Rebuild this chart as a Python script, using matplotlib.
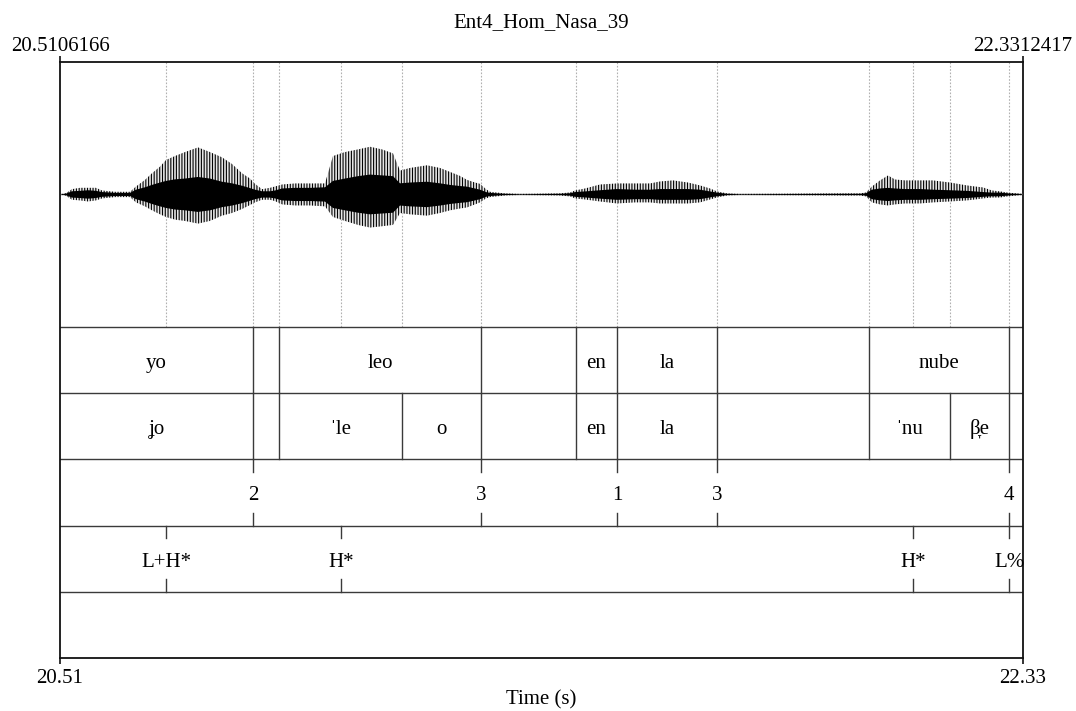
import matplotlib
matplotlib.use("Agg")
import matplotlib.pyplot as plt
import numpy as np

plt.rcParams['font.family'] = ['Liberation Serif', 'DejaVu Serif']
plt.rcParams['hatch.linewidth'] = 0.8

# ---- time range and title ----
t_start = 20.5106166
t_end = 22.3312417
title = "Ent4_Hom_Nasa_39"

# ---- waveform amplitude envelope (upper / lower, fraction of half panel) ----
wave_t = [20.5106, 20.5220, 20.5333, 20.5484, 20.5635, 20.5787, 20.5900, 20.6146,
          20.6430, 20.6543, 20.6713, 20.6845, 20.6997, 20.7110, 20.7280, 20.7469,
          20.7715, 20.7942, 20.8169, 20.8358, 20.8547, 20.8698, 20.8793, 20.8925,
          20.9076, 20.9171, 20.9303, 20.9549, 20.9833, 21.0116, 21.0267, 21.0494,
          21.0740, 21.0967, 21.1194, 21.1402, 21.1534, 21.1723, 21.2045, 21.2290,
          21.2479, 21.2668, 21.2801, 21.2952, 21.3047, 21.3160, 21.3236, 21.3349,
          21.3519, 21.3803, 21.4559, 21.4748, 21.4843, 21.5032, 21.5315, 21.5637,
          21.5977, 21.6261, 21.6450, 21.6695, 21.6979, 21.7206, 21.7395, 21.7527,
          21.7716, 21.7962, 21.9947, 22.0231, 22.0344, 22.0457, 22.0609, 22.0760,
          22.0892, 22.1081, 22.1365, 22.1610, 22.1932, 22.2253, 22.2405, 22.2556,
          22.2726, 22.2877, 22.3067, 22.3199, 22.3312]
wave_hi = [0.00, 0.01, 0.04, 0.05, 0.05, 0.05, 0.03, 0.02,
           0.02, 0.06, 0.11, 0.16, 0.21, 0.26, 0.29, 0.32,
           0.355, 0.32, 0.28, 0.23, 0.16, 0.12, 0.08, 0.04,
           0.05, 0.06, 0.075, 0.083, 0.083, 0.083, 0.29, 0.32,
           0.34, 0.36, 0.34, 0.31, 0.18, 0.20, 0.22, 0.20,
           0.17, 0.14, 0.11, 0.09, 0.08, 0.04, 0.02, 0.015,
           0.008, 0.004, 0.008, 0.015, 0.03, 0.045, 0.075, 0.083,
           0.083, 0.083, 0.098, 0.106, 0.09, 0.068, 0.045, 0.023,
           0.008, 0.004, 0.008, 0.008, 0.015, 0.06, 0.106, 0.143,
           0.113, 0.106, 0.106, 0.106, 0.09, 0.068, 0.06, 0.053,
           0.03, 0.023, 0.012, 0.008, 0.004]
wave_lo = [0.00, 0.01, 0.04, 0.045, 0.053, 0.045, 0.03, 0.02,
           0.02, 0.06, 0.09, 0.12, 0.15, 0.17, 0.19, 0.20,
           0.22, 0.20, 0.16, 0.14, 0.11, 0.08, 0.06, 0.04,
           0.04, 0.05, 0.075, 0.083, 0.083, 0.09, 0.17, 0.20,
           0.23, 0.25, 0.24, 0.23, 0.14, 0.15, 0.16, 0.14,
           0.12, 0.106, 0.098, 0.075, 0.06, 0.03, 0.02, 0.015,
           0.008, 0.004, 0.008, 0.015, 0.03, 0.038, 0.053, 0.068,
           0.06, 0.06, 0.068, 0.068, 0.068, 0.06, 0.038, 0.023,
           0.008, 0.004, 0.008, 0.008, 0.015, 0.06, 0.075, 0.083,
           0.075, 0.068, 0.068, 0.06, 0.053, 0.045, 0.038, 0.03,
           0.023, 0.023, 0.012, 0.008, 0.004]

# ---- TextGrid tiers ----
word_bounds = [20.8755, 20.9246, 21.3066, 21.4861, 21.5637, 21.7527, 22.0401, 22.3048]
word_labels = ["yo", "", "leo", "", "en", "la", "", "nube", ""]

syl_bounds = [20.8755, 20.9246, 21.1572, 21.3066, 21.4861, 21.5637, 21.7527,
              22.0401, 22.1932, 22.3048]
syl_labels = ["\u029do", "", "\u02c8le", "o", "", "en", "la", "", "\u02c8nu", "\u03b2\u031ee", ""]

break_times = [20.8755, 21.3066, 21.5637, 21.7527, 22.3048]
break_labels = ["2", "3", "1", "3", "4"]

tone_times = [20.7110, 21.0419, 22.1233, 22.3048]
tone_labels = ["L+H*", "H*", "H*", "L%"]

# ---- figure layout ----
W, H = 1076, 711
fig = plt.figure(figsize=(W / 100, H / 100), dpi=100)
left_px, right_px, top_px, bot_px = 60, 1023, 62, 658
ax_l = left_px / W
ax_w = (right_px - left_px) / W
ax_b = 1 - bot_px / H
ax_h = (bot_px - top_px) / H

FS = 15
line_col = "#3a3a3a"

ax = fig.add_axes([ax_l, ax_b, ax_w, ax_h])
ax.set_xlim(t_start, t_end)
ax.set_ylim(0, 9)
for s in ax.spines.values():
    s.set_linewidth(1.3)
    s.set_color("#111111")
ax.set_yticks([])
ax.set_xticks([t_start, t_end])
ax.set_xticklabels([])
ax.tick_params(axis='x', which='both', direction='out', length=4, width=1.2,
               top=True, bottom=True, color="#111111")

# tier separators
for y in [1, 2, 3, 4, 5]:
    ax.axhline(y, color=line_col, lw=1.0)

# waveform panel
wave_ax = fig.add_axes([ax_l, ax_b + ax_h * 5 / 9, ax_w, ax_h * 4 / 9])
wave_ax.set_xlim(t_start, t_end)
wave_ax.set_ylim(-1, 1)
wave_ax.axis('off')
wave_ax.patch.set_alpha(0)

all_marks = sorted(set(word_bounds + syl_bounds + break_times + tone_times))
for t in all_marks:
    ax.plot([t, t], [5, 9], color="#b0b0b0", lw=0.8, ls=(0, (1.5, 1.5)), zorder=1)

wt = np.array(wave_t)
hi = np.array(wave_hi)
lo = np.array(wave_lo)
wave_ax.axhline(0, color="black", lw=0.9, zorder=2)
wave_ax.fill_between(wt, -lo, hi, facecolor="#e6e6e6", edgecolor="#000000",
                     hatch="||||||", linewidth=0, zorder=3)
core = 0.6 * lo
wave_ax.fill_between(wt, -core, core, facecolor="black", linewidth=0, zorder=4)

def label_y(tier_bottom):
    return tier_bottom + 0.5 - 0.12

def interval_tier(bounds, labels, y0):
    edges = [t_start] + bounds + [t_end]
    for b in bounds:
        ax.plot([b, b], [y0, y0 + 1], color=line_col, lw=1.0)
    for i, lab in enumerate(labels):
        if lab:
            ax.text((edges[i] + edges[i + 1]) / 2, label_y(y0), lab, ha='center',
                    va='baseline', fontsize=FS)

def point_tier(times, labels, y0):
    for t, lab in zip(times, labels):
        ax.plot([t, t], [y0 + 1, y0 + 1 - 0.19], color=line_col, lw=1.0)
        ax.plot([t, t], [y0, y0 + 0.19], color=line_col, lw=1.0)
        ax.text(t, label_y(y0), lab, ha='center', va='baseline', fontsize=FS)

interval_tier(word_bounds, word_labels, 4)
interval_tier(syl_bounds, syl_labels, 3)
point_tier(break_times, break_labels, 2)
point_tier(tone_times, tone_labels, 1)

# range labels and title
ax.annotate(f"{t_start:.7f}", xy=(t_start, 9), xytext=(0, 11), textcoords='offset pixels',
            ha='center', va='baseline', fontsize=FS)
ax.annotate(f"{t_end:.7f}", xy=(t_end, 9), xytext=(0, 11), textcoords='offset pixels',
            ha='center', va='baseline', fontsize=FS)
ax.annotate(title, xy=(0.5, 1), xycoords='axes fraction', xytext=(0, 35),
            textcoords='offset pixels', ha='center', va='baseline', fontsize=FS)
ax.annotate(f"{t_start:.2f}", xy=(t_start, 0), xytext=(0, -25), textcoords='offset pixels',
            ha='center', va='baseline', fontsize=FS)
ax.annotate(f"{t_end:.2f}", xy=(t_end, 0), xytext=(0, -25), textcoords='offset pixels',
            ha='center', va='baseline', fontsize=FS)
ax.annotate("Time (s)", xy=(0.5, 0), xycoords='axes fraction', xytext=(0, -46),
            textcoords='offset pixels', ha='center', va='baseline', fontsize=FS)

fig.savefig("out.png", dpi=100)
